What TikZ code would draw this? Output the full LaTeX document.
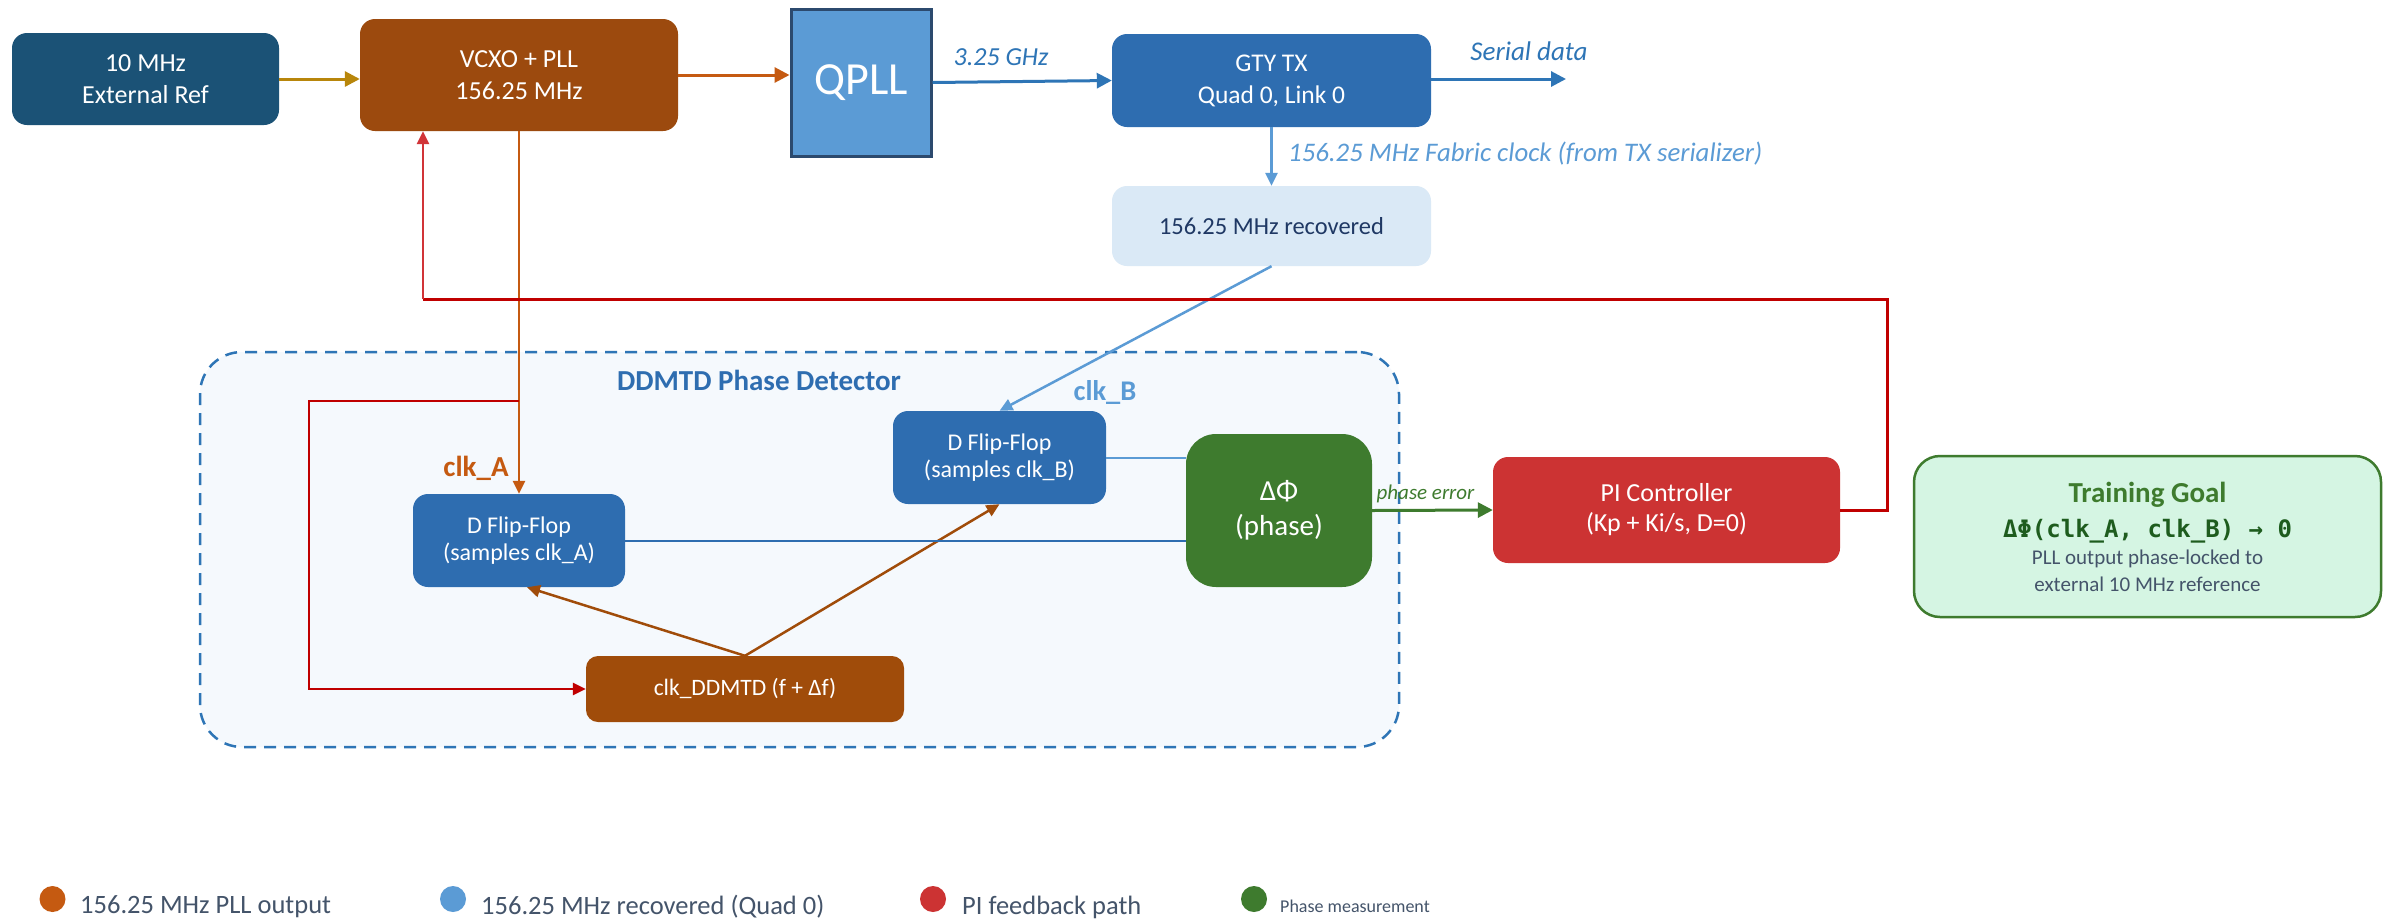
\documentclass[tikz,border=0pt]{standalone}
\usepackage{fontspec}
\setmainfont{Carlito}
\newfontfamily\codefont{DejaVu Sans Mono}
\usetikzlibrary{arrows.meta,shapes.geometric}

\definecolor{extblue}{HTML}{1B5276}
\definecolor{vcxobrown}{HTML}{9C4A0E}
\definecolor{refgold}{HTML}{B8860B}
\definecolor{pllorange}{HTML}{C55A11}
\definecolor{qpllfill}{HTML}{5B9BD5}
\definecolor{qpllborder}{HTML}{2C4A6E}
\definecolor{gtyblue}{HTML}{2E6DB0}
\definecolor{lineblue}{HTML}{2E75B6}
\definecolor{lightblue}{HTML}{5B9BD5}
\definecolor{recfill}{HTML}{DAE9F6}
\definecolor{navytext}{HTML}{1F3864}
\definecolor{groupfill}{HTML}{F5F9FD}
\definecolor{phasegreen}{HTML}{3E7B2E}
\definecolor{ddmtdbrown}{HTML}{A04C0A}
\definecolor{pired}{HTML}{CC3333}
\definecolor{fbred}{HTML}{C00000}
\definecolor{fbred2}{HTML}{D13438}
\definecolor{goalfill}{HTML}{D5F5E3}
\definecolor{goaldark}{HTML}{1E5C1E}
\definecolor{legendtext}{HTML}{44546A}

\tikzset{
  block/.style={rounded corners=15pt, inner sep=0pt, align=center, text=white},
  tip/.style={-{Triangle[length=15pt,width=15pt]}},
  smalltip/.style={-{Triangle[length=13pt,width=12pt]}},
  thick3/.style={line width=3pt},
  legenddot/.style={ellipse, fill=#1, minimum width=26pt, minimum height=26pt, inner sep=0pt},
  legendlabel/.style={anchor=west, text=legendtext, inner sep=0pt},
}

\begin{document}
\begin{tikzpicture}[x=1pt,y=-1pt]
\useasboundingbox (0,0) rectangle (2389,919);
\fill[white] (0,0) rectangle (2389,919);

% phase detector group
\node[draw=lineblue, fill=groupfill, dash pattern=on 12pt off 8pt, line width=2.5pt,
      rounded corners=42pt, minimum width=1199pt, minimum height=395pt, inner sep=0pt]
      (group) at (799.5,549.5) {};
\node[text=gtyblue, font=\fontsize{29}{34}\selectfont\bfseries] (grouptitle) at (759,380) {DDMTD Phase Detector};

% top row
\node[block, fill=extblue, minimum width=267pt, minimum height=92pt,
      font=\fontsize{26}{32}\selectfont] (ext) at (145.5,79) {10 MHz\\External Ref};
\node[block, fill=vcxobrown, minimum width=318pt, minimum height=112pt,
      font=\fontsize{26}{32}\selectfont] (vcxo) at (519,75) {VCXO + PLL\\156.25 MHz};
\node[draw=qpllborder, line width=3pt, fill=qpllfill, text=white, inner sep=0pt,
      minimum width=140pt, minimum height=147pt,
      font=\fontsize{46}{52}\selectfont] (qpll) at (861,82.5) {QPLL};
\node[block, fill=gtyblue, minimum width=319pt, minimum height=93pt,
      font=\fontsize{25.5}{32}\selectfont] (gty) at (1271.5,80.5) {GTY TX\\Quad 0, Link 0};
\node[block, fill=recfill, text=navytext, minimum width=319pt, minimum height=80pt,
      font=\fontsize{24.5}{30}\selectfont] (rec) at (1271.5,226) {156.25 MHz recovered};

% detector internals
\node[block, fill=gtyblue, minimum width=212pt, minimum height=93pt,
      font=\fontsize{24}{27}\selectfont] (dffa) at (519,540.5) {D Flip-Flop\\(samples clk\_A)};
\node[block, fill=gtyblue, minimum width=213pt, minimum height=93pt,
      font=\fontsize{24}{27}\selectfont] (dffb) at (999.5,457.5) {D Flip-Flop\\(samples clk\_B)};
\node[block, rounded corners=30pt, fill=phasegreen, minimum width=186pt, minimum height=153pt,
      font=\fontsize{29}{35}\selectfont] (dphi) at (1279,510.5) {ΔΦ\\(phase)};
\node[block, rounded corners=12pt, fill=ddmtdbrown, minimum width=318pt, minimum height=66pt,
      font=\fontsize{23.5}{28}\selectfont] (ddmtd) at (745,689) {clk\_DDMTD (f + Δf)};

% controller and goal
\node[block, fill=pired, minimum width=347pt, minimum height=106pt,
      font=\fontsize{26}{30}\selectfont] (pi) at (1666.5,510) {PI Controller\\(Kp + Ki/s, D=0)};
\node[draw=phasegreen, line width=2.5pt, fill=goalfill, rounded corners=26pt,
      minimum width=467pt, minimum height=161pt, inner sep=0pt] (goal) at (2147.5,536.5) {};
\node[text=phasegreen, font=\fontsize{29}{32}\selectfont\bfseries] (goaltitle) at (2147.5,495) {Training Goal};
\node[text=goaldark, font=\fontsize{24}{28}\codefont\bfseries] (goaleq) at (2147.5,531) {ΔΦ(clk\_A, clk\_B) → 0};
\node[text=legendtext, align=center, font=\fontsize{21}{27}\selectfont] (goalnote) at (2147.5,571)
      {PLL output phase-locked to\\external 10 MHz reference};

% reference and clock chain
\draw[tip, thick3, refgold] (ext.east) -- (vcxo.west |- ext.east);
\draw[tip, thick3, pllorange] (vcxo.east) -- (qpll.west |- vcxo.east);
\draw[tip, thick3, lineblue] (qpll.east) -- (gty.west);
\node[text=lineblue, font=\fontsize{26}{30}\selectfont\itshape] (ghz) at (1001,57) {3.25 GHz};
\coordinate (serialend) at (1566,79);
\draw[tip, thick3, lineblue] (gty.east |- serialend) -- (serialend);
\node[text=lineblue, font=\fontsize{27}{30}\selectfont\itshape] (serial) at (1529,51) {Serial data};
\draw[smalltip, line width=2.5pt, lightblue] (gty.south) -- (rec.north);
\node[anchor=west, text=lightblue, font=\fontsize{26.8}{30}\selectfont\itshape, inner sep=0pt] (fabric) at (1288,154)
      {156.25 MHz Fabric clock (from TX serializer)};

% clk_A and clk_B into the flip-flops
\draw[smalltip, line width=2.5pt, pllorange] (vcxo.south) -- (dffa.north);
\node[text=pllorange, font=\fontsize{29}{32}\selectfont\bfseries] (clka) at (476,468) {clk\_A};
\draw[smalltip, line width=2.5pt, lightblue] (rec.south) -- (dffb.north);
\node[text=lightblue, font=\fontsize{28.5}{32}\selectfont\bfseries] (clkb) at (1105,392) {clk\_B};

% offset clock to both flip-flops
\draw[smalltip, line width=2.5pt, ddmtdbrown] (ddmtd.north) -- ([xshift=8pt]dffa.south);
\draw[smalltip, line width=2.5pt, ddmtdbrown] (ddmtd.north) -- (dffb.south);

% flip-flop outputs to the phase comparator
\draw[line width=2pt, gtyblue] (dffa.east) -- (dffa.east -| dphi.west);
\draw[line width=2pt, lightblue] (dffb.east) -- (dffb.east -| dphi.west);

% phase error to controller
\draw[tip, thick3, phasegreen] (dphi.east) -- (pi.west);
\node[text=phasegreen, font=\fontsize{21}{24}\selectfont\itshape] (perr) at (1425.5,494) {phase error};

% feedback to the VCXO
\coordinate (fbcorner) at (1887,299);
\coordinate (fbin) at ([xshift=-96pt]vcxo.south);
\draw[line width=3pt, fbred] (pi.east) -| (fbcorner) -- (fbcorner -| fbin);
\draw[smalltip, line width=2.5pt, fbred2] (fbcorner -| fbin) -- (fbin);

% feedback tap to the offset clock
\coordinate (tap) at (519,401);
\coordinate (tapcorner) at (309,401);
\draw[smalltip, line width=2.5pt, fbred] (tap) -- (tapcorner) |- (ddmtd.west);

% legend
\node[legenddot=pllorange] (lg1) at (52.5,899) {};
\node[legendlabel, font=\fontsize{26.5}{30}\selectfont] (lt1) at (80,907) {156.25 MHz PLL output};
\node[legenddot=lightblue] (lg2) at (453,899) {};
\node[legendlabel, font=\fontsize{26.5}{30}\selectfont] (lt2) at (481,907) {156.25 MHz recovered (Quad 0)};
\node[legenddot=pired] (lg3) at (933,899) {};
\node[legendlabel, font=\fontsize{26.5}{30}\selectfont] (lt3) at (962,907) {PI feedback path};
\node[legenddot=phasegreen] (lg4) at (1254,899) {};
\node[legendlabel, font=\fontsize{18}{21}\selectfont] (lt4) at (1280,906) {Phase measurement};
\end{tikzpicture}
\end{document}
